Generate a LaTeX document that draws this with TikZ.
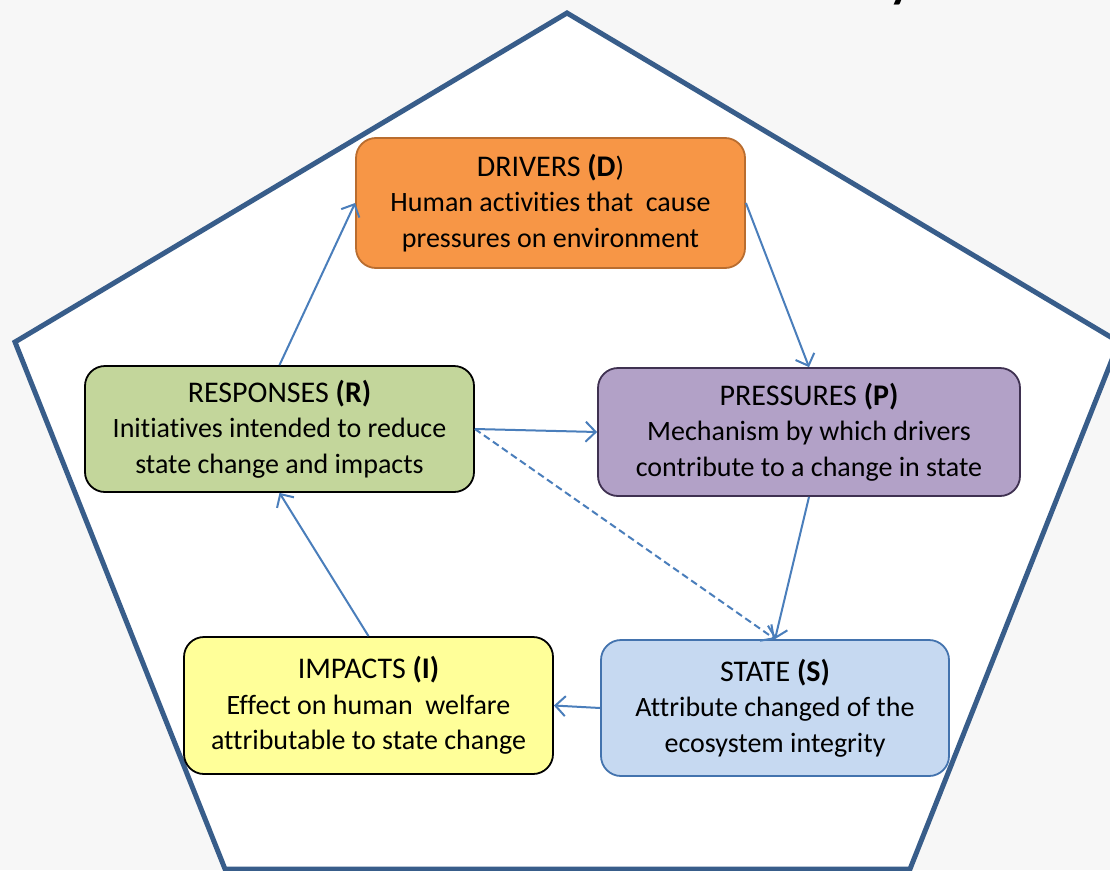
\documentclass[tikz,border=0pt]{standalone}
\usepackage{fontspec}
\setmainfont[Ligatures=NoCommon]{Carlito}
\usetikzlibrary{arrows.meta}

\definecolor{frameblue}{HTML}{385D8A}
\definecolor{linkblue}{HTML}{4A7EBB}
\definecolor{drvfill}{HTML}{F79646}
\definecolor{drvline}{HTML}{B96D2F}
\definecolor{rspfill}{HTML}{C3D69B}
\definecolor{prsfill}{HTML}{B2A1C7}
\definecolor{prsline}{HTML}{3F3151}
\definecolor{impfill}{HTML}{FFFF99}
\definecolor{stafill}{HTML}{C6D9F1}
\definecolor{staline}{HTML}{4373AE}
\definecolor{paper}{HTML}{F7F7F7}

\tikzset{
  box/.style={rounded corners=20pt, line width=1.8pt, align=center,
    inner sep=0pt, font=\fontsize{28}{35.5}\selectfont},
  link/.style={draw=linkblue, line width=2pt,
    -{Straight Barb[length=10pt,width=20pt,line width=2pt]}}
}
\newcommand{\hd}[1]{{\fontsize{30}{36}\selectfont #1}}

\begin{document}
\begin{tikzpicture}[x=1pt,y=-1pt]
  \useasboundingbox (0,0) rectangle (1110,870);
  \clip (0,0) rectangle (1110,870);
  \fill[paper] (0,0) rectangle (1110,870);

  % pentagon frame
  \filldraw[fill=white, draw=frameblue, line width=5pt, line join=miter]
    (567,13) -- (1119,342) -- (910,869) -- (225,869) -- (15,342) -- cycle;

  % tail of the title line above
  \node[anchor=base, inner sep=0pt, font=\fontsize{48}{48}\selectfont\bfseries]
    (ttl) at (901,-2) {y};

  % the five DPSIR boxes
  \node[box, fill=drvfill, draw=drvline, minimum width=389pt, minimum height=130pt]
    (D) at (550.5,203) {\hd{DRIVERS \textbf{(D}})\\Human activities that\ \ cause\\pressures on environment};
  \node[box, fill=rspfill, draw=black, minimum width=389pt, minimum height=126pt]
    (R) at (279.5,429) {\hd{RESPONSES \textbf{(R)}}\\Initiatives intended to reduce\\state change and impacts};
  \node[box, fill=prsfill, draw=prsline, minimum width=422pt, minimum height=128pt]
    (P) at (809,432) {\hd{PRESSURES \textbf{(P)}}\\Mechanism by which drivers\\contribute to a change in state};
  \node[box, fill=impfill, draw=black, minimum width=369pt, minimum height=137pt]
    (I) at (368.5,705.5) {\hd{IMPACTS \textbf{(I)}}\\Effect on human\ \ welfare\\attributable\ to state\ change};
  \node[box, fill=stafill, draw=staline, minimum width=348pt, minimum height=136pt]
    (S) at (775,708) {\hd{STATE \textbf{(S)}}\\Attribute changed of\ the\\ecosystem integrity};

  % causal links
  \draw[link] (R.north) -- (D.west);
  \draw[link] (D.east) -- (P.north);
  \draw[link] (R.east) -- (P.west);
  \draw[link] (P.south) -- (S.north);
  \draw[link, dashed, dash pattern=on 7pt off 4pt] (R.east) -- (S.north);
  \draw[link] (S.west) -- (I.east);
  \draw[link] (I.north) -- (R.south);
\end{tikzpicture}
\end{document}
